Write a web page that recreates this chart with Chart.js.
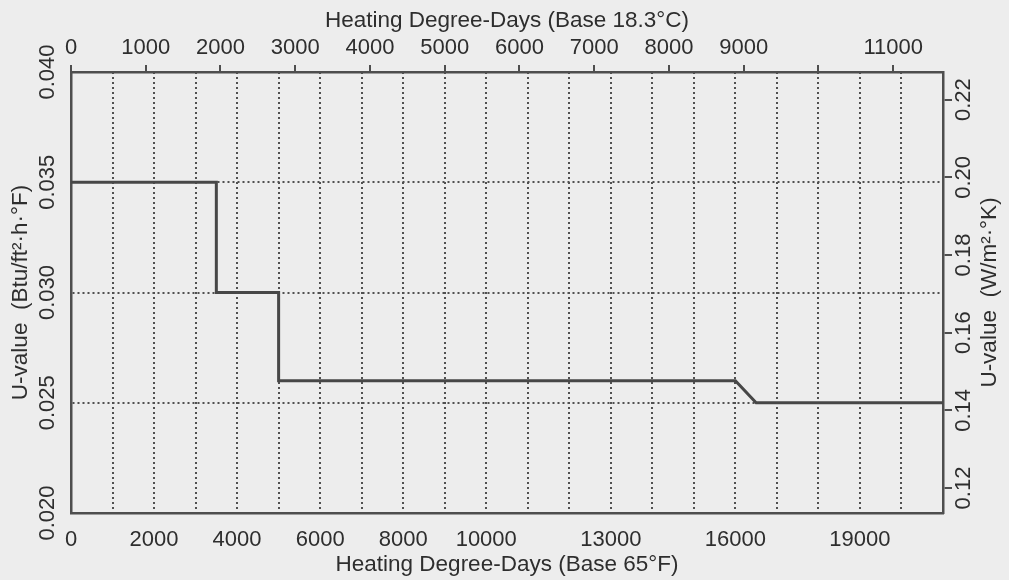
<!DOCTYPE html>
<html>
<head>
<meta charset="utf-8">
<title>U-value vs Heating Degree-Days</title>
<script src="https://cdn.jsdelivr.net/npm/chart.js@4.4.1/dist/chart.umd.min.js"></script>
<style>
	html, body { margin: 0; padding: 0; background: #ededed; }
	canvas { display: block; }
</style>
</head>
<body>
<canvas id="graphCanvas" width="1009" height="580"></canvas>
<script>
//	chart data
var degreeDaysF = [0, 3500, 3500, 5000, 5000, 16000, 16500, 21000];
var uValueIP = [0.035, 0.035, 0.030, 0.030, 0.026, 0.026, 0.025, 0.025];

var bottomLabels = [0, 2000, 4000, 6000, 8000, 10000, 13000, 16000, 19000];
var topTicks = [0, 1000, 2000, 3000, 4000, 5000, 6000, 7000, 8000, 9000, 10000, 11000];
var topLabels = [0, 1000, 2000, 3000, 4000, 5000, 6000, 7000, 8000, 9000, 11000];

var xMaxF = 21000;
var yMinIP = 0.020;
var yMaxIP = 0.040;
var fToC = 1 / 1.8;		// F degree-days -> C degree-days
var ipToSI = 5.678;		// Btu/ft2.h.F -> W/m2.K

let colors = {
	ink: '#2e2e2e',
	frame: '#4e4e4e',
	grid: '#505050',
	line: '#474747',
	paper: '#ededed'
};

let tickFont = { family: 'Liberation Sans', size: 22 };
let titleFont = { family: 'Liberation Sans', size: 22.5 };

// hide the dotted line where it would sit on the frame
var gridColorFor = function (lo, hi) {
	return function (ctx) {
		if (!ctx.tick) return colors.grid;
		var v = ctx.tick.value;
		if (Math.abs(v - lo) < 1e-9 || Math.abs(v - hi) < 1e-9) return 'rgba(0,0,0,0)';
		return colors.grid;
	};
};

var paperPlugin = {
	id: 'paper',
	beforeDraw: function (chart) {
		var c = chart.ctx;
		c.save();
		c.fillStyle = colors.paper;
		c.fillRect(0, 0, chart.width, chart.height);
		c.restore();
	},
	afterDraw: function (chart) {
		// right axis title reads bottom-to-top like the left one
		var c = chart.ctx;
		var area = chart.chartArea;
		c.save();
		c.translate(990, (area.top + area.bottom) / 2);
		c.rotate(-Math.PI / 2);
		c.font = titleFont.size + 'px ' + titleFont.family;
		c.fillStyle = colors.ink;
		c.textAlign = 'center';
		c.textBaseline = 'middle';
		c.fillText('U-value  (W/m²·°K)', 0, 0);
		c.restore();
	}
};

var points = degreeDaysF.map(function (d, i) { return { x: d, y: uValueIP[i] }; });

Chart.defaults.font.family = 'Liberation Sans';
Chart.defaults.color = colors.ink;

var theGraph = new Chart(document.getElementById('graphCanvas'), {
	type: 'line',
	data: {
		datasets: [{
			data: points,
			xAxisID: 'x',
			yAxisID: 'y',
			borderColor: colors.line,
			borderWidth: 3,
			pointRadius: 0,
			tension: 0,
			fill: false
		}]
	},
	options: {
		responsive: false,
		animation: false,
		devicePixelRatio: 1,
		layout: { padding: 0 },
		plugins: {
			legend: { display: false },
			tooltip: { enabled: false }
		},
		scales: {
			x: {
				type: 'linear',
				position: 'bottom',
				min: 0,
				max: xMaxF,
				afterFit: function (s) { s.height = 67; },
				ticks: {
					stepSize: 1000,
					autoSkip: false,
					maxRotation: 0,
					padding: 14,
					font: tickFont,
					color: colors.ink,
					callback: function (v) { return bottomLabels.indexOf(Math.round(v)) >= 0 ? String(Math.round(v)) : ''; }
				},
				grid: {
					color: gridColorFor(0, xMaxF),
					lineWidth: 2,
					drawTicks: false
				},
				border: { display: true, color: colors.frame, width: 2.5, dash: [2, 3] },
				title: {
					display: true,
					text: 'Heating Degree-Days (Base 65°F)',
					font: titleFont,
					color: colors.ink,
					padding: { top: 0, bottom: 1.5 }
				}
			},
			xTop: {
				type: 'linear',
				position: 'top',
				bounds: 'data',
				min: 0,
				max: xMaxF * fToC,
				afterFit: function (s) { s.height = 72; },
				afterBuildTicks: function (s) {
					s.ticks = topTicks.map(function (v) { return { value: v }; });
				},
				ticks: {
					autoSkip: false,
					maxRotation: 0,
					padding: 4,
					font: tickFont,
					color: colors.ink,
					callback: function (v) { return topLabels.indexOf(Math.round(v)) >= 0 ? String(Math.round(v)) : ''; }
				},
				grid: {
					drawOnChartArea: false,
					color: colors.frame,
					lineWidth: 2,
					tickLength: 7
				},
				border: { display: true, color: colors.frame, width: 2.5 },
				title: {
					display: true,
					text: 'Heating Degree-Days (Base 18.3°C)',
					font: titleFont,
					color: colors.ink,
					padding: { top: 7.5, bottom: 0 }
				}
			},
			y: {
				type: 'linear',
				position: 'left',
				min: yMinIP,
				max: yMaxIP,
				afterFit: function (s) { s.width = 71; },
				ticks: {
					stepSize: 0.005,
					minRotation: 90,
					maxRotation: 90,
					crossAlign: 'center',
					padding: -4,
					font: tickFont,
					color: colors.ink,
					callback: function (v) { return v.toFixed(3); }
				},
				grid: {
					color: gridColorFor(yMinIP, yMaxIP),
					lineWidth: 2,
					drawTicks: false
				},
				border: { display: true, color: colors.frame, width: 2.5, dash: [2, 3] },
				title: {
					display: true,
					text: 'U-value  (Btu/ft²·h·°F)',
					font: titleFont,
					color: colors.ink,
					padding: { top: 7, bottom: 0 }
				}
			},
			yRight: {
				type: 'linear',
				position: 'right',
				min: yMinIP * ipToSI,
				max: yMaxIP * ipToSI,
				afterFit: function (s) { s.width = 66; },
				ticks: {
					stepSize: 0.02,
					includeBounds: false,
					minRotation: 90,
					maxRotation: 90,
					crossAlign: 'center',
					padding: -9,
					font: tickFont,
					color: colors.ink,
					callback: function (v) { return v.toFixed(2); }
				},
				grid: {
					drawOnChartArea: false,
					color: colors.frame,
					lineWidth: 2,
					tickLength: 9
				},
				border: { display: true, color: colors.frame, width: 2.5 }
			}
		}
	},
	plugins: [paperPlugin]
});
</script>
</body>
</html>
